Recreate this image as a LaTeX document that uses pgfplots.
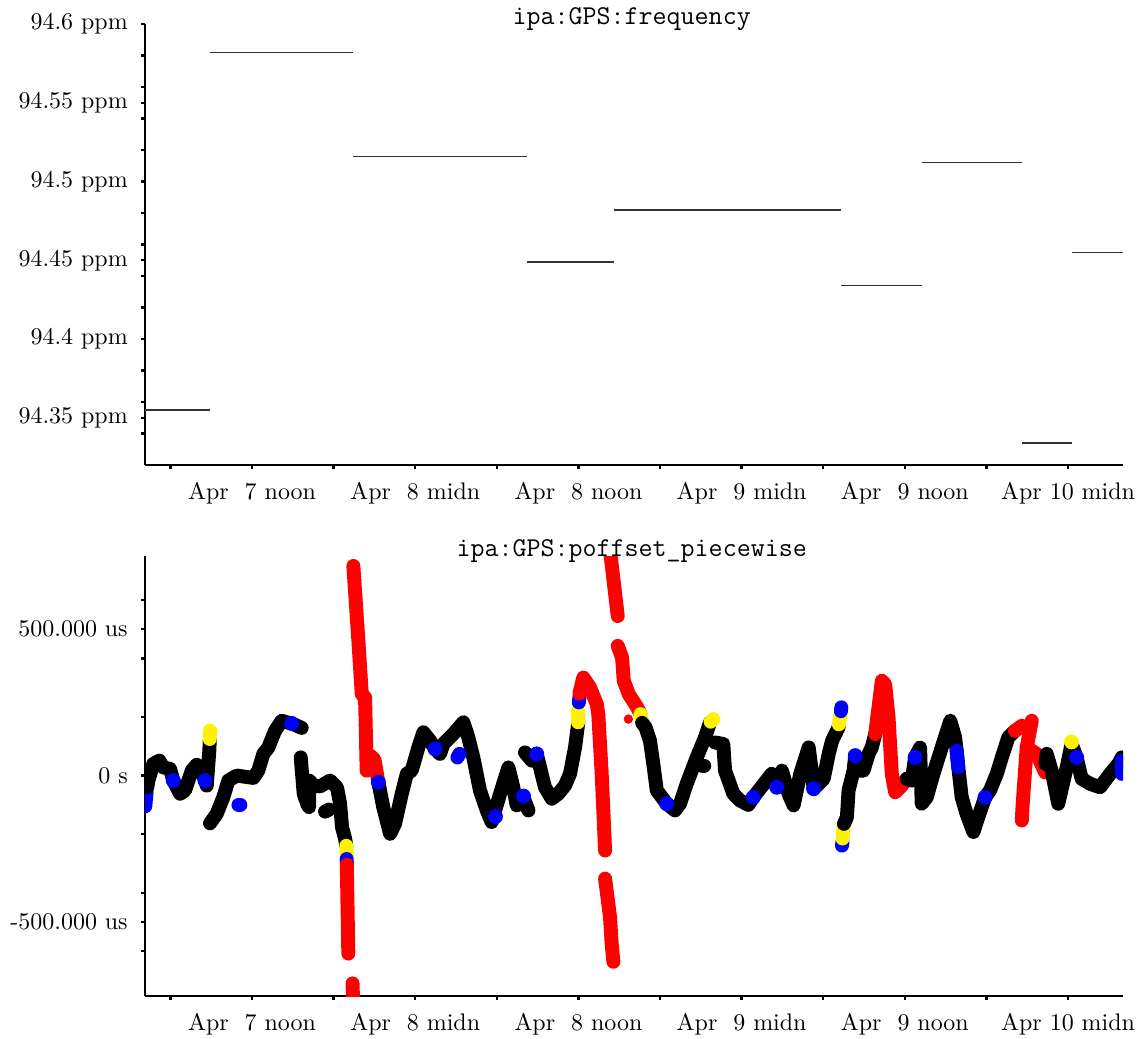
\documentclass[border=0pt]{standalone}
\usepackage{pgfplots}
\pgfplotsset{compat=1.18}
\pgfplotsset{
  base/.style={
    scale only axis, width=420.54pt,
    xmin=4.13, xmax=76.04,
    axis x line=bottom, axis y line=left, axis line style={-, line width=1pt},
    tick align=outside, major tick length=1.8pt, minor tick length=1.8pt,
    tick style={line width=1pt, black},
    xtick={12,24,36,48,60,72},
    xticklabels={Apr\ \ 7 noon, Apr\ \ 8 midn, Apr\ \ 8 noon, Apr\ \ 9 midn, Apr\ \ 9 noon, Apr 10 midn},
    minor xtick={6,18,30,42,54,66},
    ticklabel style={font=\fontsize{10.3}{12}\selectfont},
    xticklabel style={yshift=-2.2pt},
    yticklabel style={xshift=-2.1pt},
    title style={font=\ttfamily\fontsize{11.7}{14}\selectfont, at={(0.5,1)}, anchor=base, xshift=-1pt, yshift=-6.4pt},
  },
  dots/.style={line width=6pt, line cap=round, line join=round, no markers},
  bk/.style={dots, black},
  bl/.style={dots, blue},
  yl/.style={dots, yellow},
  rd/.style={dots, red},
  bm/.style={only marks, mark=*, mark size=3pt, blue, mark options={draw=none, fill=blue}},
  ym/.style={only marks, mark=*, mark size=3pt, yellow, mark options={draw=none, fill=yellow}},
  seg/.style={black!80, line width=0.6pt, no markers},
}
\begin{document}
\begin{tikzpicture}
\path[use as bounding box] (-62.35pt,10.32pt) rectangle (429.14pt,-436.02pt);
% ---------- top panel ----------
\begin{axis}[base, at={(0,0)}, anchor=north west, height=189.63pt,
  ymin=94.32, ymax=94.6,
  ytick={94.35,94.4,94.45,94.5,94.55,94.6},
  yticklabels={94.35 ppm,94.4 ppm,94.45 ppm,94.5 ppm,94.55 ppm,94.6 ppm},
  minor ytick={94.34,94.36,94.38,94.42,94.44,94.46,94.48,94.52,94.54,94.56,94.58},
  title={ipa:GPS:frequency}]
\addplot[seg] coordinates {(4.13,94.355) (8.91,94.355)};
\addplot[seg] coordinates {(8.91,94.582) (19.43,94.582)};
\addplot[seg] coordinates {(19.43,94.516) (32.22,94.516)};
\addplot[seg] coordinates {(32.22,94.449) (38.62,94.449)};
\addplot[seg] coordinates {(38.62,94.482) (55.31,94.482)};
\addplot[seg] coordinates {(55.31,94.434) (61.26,94.434)};
\addplot[seg] coordinates {(61.26,94.512) (68.62,94.512)};
\addplot[seg] coordinates {(68.62,94.334) (72.29,94.334)};
\addplot[seg] coordinates {(72.29,94.455) (76.04,94.455)};
\end{axis}
% ---------- bottom panel ----------
\begin{axis}[base, at={(0,-228.76pt)}, anchor=north west, height=189.2pt,
  ymin=-753, ymax=750,
  ytick={-500,0,500},
  yticklabels={-500.000 us,0 s,500.000 us},
  minor ytick={-600,-400,-200,200,400,600},
  title={ipa:GPS:poffset\_piecewise}]
% piece 1
\addplot[bl] coordinates {(4.15,-105) (4.25,-55)};
\addplot[bk] coordinates {(4.3,-40) (4.38,-17) (4.74,40) (5.18,51) (5.48,28) (5.97,23) (6.21,-17) (6.71,-62) (7.07,-51) (7.57,17) (7.93,37) (8.30,17) (8.54,-17) (8.67,-34) (8.86,85) (8.89,120)};
\addplot[bm] coordinates {(6.21,-17) (8.54,-17)};
\addplot[yl] coordinates {(8.89,125) (8.91,153)};
% piece 2
\addplot[bk] coordinates {(8.91,-163) (9.40,-131) (9.89,-74) (10.26,-17) (10.88,0) (12.10,-8) (12.46,17) (12.83,74) (13.20,96) (13.69,153) (14.18,187) (14.55,182) (14.92,178) (15.65,163)};
\addplot[bm] coordinates {(14.92,178)};
\addplot[bl] coordinates {(11.0,-100) (11.14,-100)};
% piece 3
\addplot[bk] coordinates {(15.58,62) (15.68,6) (15.80,-62) (16.05,-96) (16.19,-108) (16.22,-17) (16.49,-34) (17.0,-37) (17.74,-17) (18.25,-41) (18.47,-95) (18.62,-177) (18.84,-215) (18.93,-240)};
\addplot[bk] coordinates {(17.37,-123) (17.66,-116)};
\addplot[yl] coordinates {(18.93,-240) (18.96,-270)};
\addplot[bl] coordinates {(18.96,-285) (18.97,-299)};
\addplot[rd] coordinates {(18.97,-305) (19.08,-608)};
\addplot[rd] coordinates {(19.39,-710) (19.46,-820)};
% piece 4
\addplot[rd] coordinates {(19.45,716) (19.82,460) (20.07,278) (20.31,267) (20.35,187) (20.43,17) (20.70,68) (21.0,55) (21.29,-23)};
\addplot[bk] coordinates {(21.29,-23) (21.65,-108) (22.15,-199) (22.51,-165) (23.01,-62) (23.38,6) (23.74,17) (24.23,96) (24.60,148) (25.09,119) (25.46,91) (25.82,74) (26.07,108) (26.80,142) (27.54,182) (27.90,131) (28.27,62) (28.76,-51) (29.26,-119) (29.62,-159) (30.24,-62) (30.85,28) (31.21,-40) (31.46,-102) (31.7,-77) (31.96,-75) (32.32,-119)};
\addplot[bm] coordinates {(21.29,-23) (25.46,91) (29.9,-140) (31.96,-70)};
\addplot[bl] coordinates {(27.1,62) (27.25,74)};
% piece 5
\addplot[bk] coordinates {(32.07,79) (32.57,51) (32.93,74) (33.54,-40) (34.04,-79) (34.52,-62) (35.01,-34) (35.38,6) (35.75,96) (35.99,182)};
\addplot[bm] coordinates {(32.93,74)};
\addplot[yl] coordinates {(35.99,182) (35.99,222)};
\addplot[bl] coordinates {(36.03,250) (36.07,267)};
\addplot[rd] coordinates {(36.07,280) (36.36,335) (36.85,301) (37.35,244) (37.46,210) (37.71,6) (37.96,-256)};
\addplot[rd] coordinates {(37.96,-352) (38.32,-483) (38.45,-579) (38.57,-636)};
\addplot[rd] coordinates {(38.27,790) (38.89,545)};
\addplot[rd] coordinates {(38.89,443) (39.21,403) (39.33,324) (39.70,278) (40.32,233) (40.56,210)};
\addplot[only marks, mark=*, mark size=1.8pt, red, mark options={draw=none, fill=red}] coordinates {(39.67,193)};
\addplot[yl] coordinates {(40.56,210) (40.68,187)};
% piece 6
\addplot[bk] coordinates {(40.68,180) (40.93,165) (41.26,119) (41.54,28) (41.76,-51) (42.49,-96) (43.10,-119) (43.47,-96) (43.96,-28) (44.70,62) (45.31,131) (45.68,182)};
\addplot[bm] coordinates {(42.49,-96)};
\addplot[yl] coordinates {(45.72,184) (45.92,193)};
\addplot[bk] coordinates {(45.12,34) (45.25,34)};
% piece 7
\addplot[bk] coordinates {(46.04,113) (46.65,108) (46.78,17) (47.39,-62) (47.88,-85) (48.49,-100) (48.86,-74) (49.35,-45) (50.21,6) (50.58,-40) (50.96,17) (51.45,-62) (51.82,-102) (52.31,6) (52.93,96) (53.18,6) (53.29,-45) (54.03,-11) (54.40,74) (54.65,119) (55.13,165)};
\addplot[bm] coordinates {(48.86,-74) (50.58,-40) (53.29,-45)};
\addplot[yl] coordinates {(55.15,175) (55.26,204)};
\addplot[bl] coordinates {(55.30,220) (55.33,233)};
% piece 8
\addplot[bl] coordinates {(55.38,-239) (55.42,-225)};
\addplot[yl] coordinates {(55.42,-215) (55.50,-170)};
\addplot[bk] coordinates {(55.52,-165) (55.74,-142) (55.86,-51) (56.23,17) (56.35,68) (56.60,17) (56.96,17) (57.33,74) (57.57,96) (57.82,142)};
\addplot[bm] coordinates {(56.35,68)};
\addplot[rd] coordinates {(57.82,142) (58.31,324) (58.55,312) (58.80,199) (59.04,6) (59.29,-57) (59.78,-34) (60.14,-11)};
% piece 9
\addplot[bk] coordinates {(60.14,-11) (60.51,-17) (60.75,62) (61.12,96) (61.24,-96) (61.61,-74) (62.10,6) (62.71,96) (63.34,187) (63.69,131) (63.81,85) (63.93,28) (64.18,-74) (64.54,-131) (65.04,-193) (65.40,-142) (65.90,-74) (66.26,-51) (66.76,6) (67.13,62) (67.61,131) (68.10,153)};
\addplot[bm] coordinates {(60.75,62) (65.90,-74)};
\addplot[bl] coordinates {(63.81,85) (63.93,28)};
\addplot[rd] coordinates {(68.10,153) (68.60,170)};
\addplot[rd] coordinates {(68.60,-153) (68.66,-100) (68.96,96) (69.33,187)};
\addplot[rd] coordinates {(68.96,96) (69.70,74) (70.31,11)};
% piece 10
\addplot[bk] coordinates {(70.35,40) (70.43,74) (70.79,17) (71.28,-96) (71.90,28) (72.26,108) (72.63,62) (73.0,-11) (73.62,-28) (74.35,-40) (75.09,6) (75.70,40) (75.95,62)};
\addplot[ym] coordinates {(72.26,115)};
\addplot[bm] coordinates {(72.63,62)};
\addplot[bl] coordinates {(75.95,50) (75.95,6)};
\end{axis}
\end{tikzpicture}
\end{document}
